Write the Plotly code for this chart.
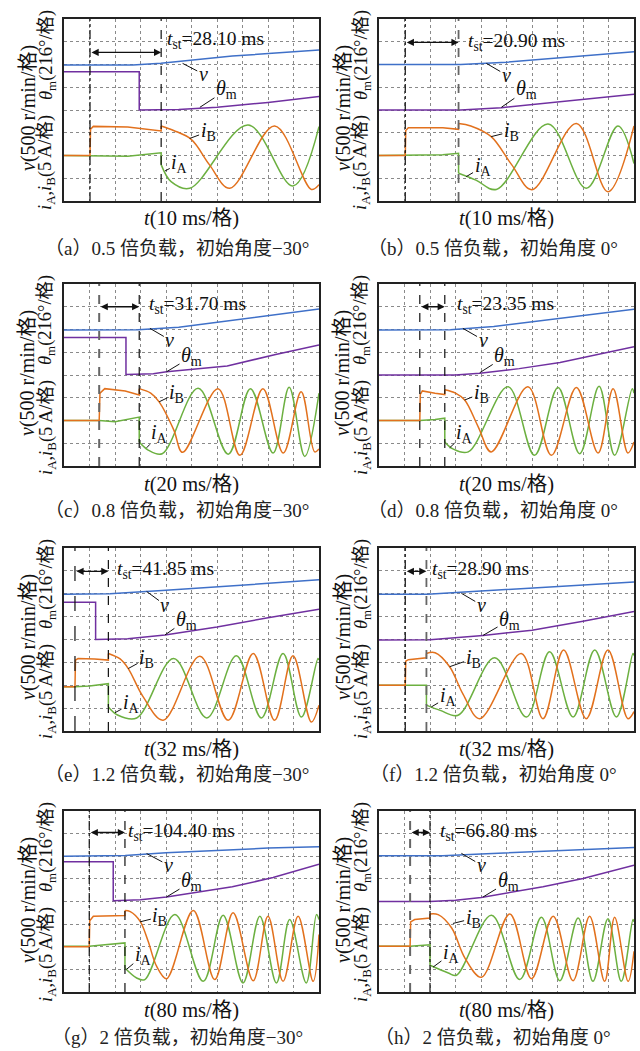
import plotly.graph_objects as go

# ---------------- data (oscilloscope divisions: x 0..10, y 0..8) ----------------
PANEL_TAGS = ["a", "b", "c", "d", "e", "f", "g", "h"]
LOAD = ["0.5", "0.5", "0.8", "0.8", "1.2", "1.2", "2", "2"]
ANGLE = ["−30°", " 0°", "−30°", " 0°", "−30°", " 0°", "−30°", " 0°"]
T_SCALE_MS = [10, 10, 20, 20, 32, 32, 80, 80]
T_ST_MS = ["28.10", "20.90", "31.70", "23.35", "41.85", "28.90", "104.40", "66.80"]
T_D1 = [1.02, 1.03, 1.38, 1.60, 0.43, 1.03, 0.99, 1.22]
T_D2 = [3.81, 3.12, 2.95, 2.58, 1.74, 1.86, 2.39, 2.00]

A_V = [(0, 5.98), (2.7, 5.98), (3.8, 6.06), (5.5, 6.25), (6.6, 6.37), (10, 6.64)]
A_TH = [(0, 5.68), (2.95, 5.68), (2.95, 4.0), (4.5, 4.02), (6, 4.12), (8, 4.33), (10, 4.59)]
A_IB_PRE = [(0, 2.0), (1.02, 2.0), (1.04, 3.15), (1.15, 3.28), (2.5, 3.25), (3.81, 3.08), (3.81, 3.3)]
A_IB = [(3.81, 3.3), (4.3, 3.1), (5.0, 2.7), (5.7, 1.6), (6.5, 0.56), (8.26, 3.3), (9.7, 0.51), (10, 0.72)]
A_IA_PRE = [(0, 2.0), (1.02, 2.0), (2.5, 1.97), (3.81, 2.12), (3.81, 1.6)]
A_IA = [(3.81, 1.6), (4.2, 0.85), (4.93, 0.56), (7.22, 3.34), (8.98, 0.66), (10, 3.27)]

B_V = [(0, 6.0), (3.2, 6.0), (5, 6.1), (7, 6.28), (10, 6.56)]
B_TH = [(0, 4.0), (3.2, 4.0), (4.8, 4.1), (7, 4.35), (10, 4.69)]
B_IB_PRE = [(0, 2.0), (1.03, 2.0), (1.05, 3.1), (1.15, 3.22), (2.5, 3.22), (3.12, 3.15), (3.12, 3.41)]
B_IB = [(3.12, 3.41), (3.6, 3.3), (4.4, 2.83), (5.2, 1.6), (6.0, 0.5), (7.74, 3.41), (8.98, 0.41), (10, 3.3)]
B_IA_PRE = [(0, 2.0), (1.03, 2.0), (2.5, 2.03), (3.12, 2.1), (3.12, 1.22)]
B_IA = [(3.12, 1.22), (3.8, 0.92), (4.6, 0.51), (6.63, 3.38), (8.13, 0.56), (9.37, 3.3), (10, 1.65)]

C_V = [(0, 5.98), (2.9, 5.99), (4.5, 6.1), (6.6, 6.4), (10, 6.9)]
C_TH = [(0, 5.65), (2.43, 5.65), (2.43, 4.02), (3.5, 4.05), (4.02, 4.14), (6.4, 4.4), (8.3, 4.9), (10, 5.32)]
C_IB_PRE = [(0, 2.0), (1.38, 2.0), (1.41, 3.2), (1.6, 3.4), (2.4, 3.3), (2.95, 3.12), (2.95, 3.4)]
C_IB = [(2.95, 3.4), (3.4, 3.2), (3.73, 2.82), (4.3, 1.6), (4.65, 0.6), (6.04, 3.4), (6.9, 0.47), (7.8, 3.4),
        (8.6, 0.57), (9.3, 3.26), (9.83, 0.62), (10, 0.75)]
C_IA_PRE = [(0, 2.0), (1.38, 2.0), (2.0, 1.95), (2.95, 2.15), (2.95, 1.05)]
C_IA = [(2.95, 1.05), (3.3, 0.7), (3.85, 0.54), (5.26, 3.42), (6.44, 0.52), (7.31, 3.4), (8.2, 0.57),
        (8.83, 3.46), (9.44, 0.42), (10, 3.2)]

D_V = [(0, 5.98), (2.8, 5.99), (4.5, 6.13), (6.4, 6.4), (10, 6.89)]
D_TH = [(0, 4.0), (3.0, 4.0), (3.95, 4.08), (5.5, 4.28), (7.1, 4.55), (10, 5.24)]
D_IB_PRE = [(0, 2.0), (1.6, 2.0), (1.62, 3.15), (1.7, 3.3), (2.2, 3.2), (2.58, 3.14), (2.58, 3.35)]
D_IB = [(2.58, 3.35), (3.0, 3.2), (3.36, 2.9), (3.9, 1.7), (4.4, 0.62), (5.84, 3.48), (6.76, 0.47),
        (7.74, 3.45), (8.59, 0.57), (9.18, 3.4), (9.76, 0.57), (10, 1.06)]
D_IA_PRE = [(0, 2.0), (1.6, 2.0), (2.2, 2.04), (2.58, 2.1), (2.58, 1.06)]
D_IA = [(2.58, 1.06), (2.9, 0.75), (3.5, 0.62), (5.06, 3.48), (6.1, 0.47), (7.02, 3.45), (7.87, 0.54),
        (8.63, 3.5), (9.24, 0.47), (9.93, 3.4), (10, 3.2)]

E_V = [(0, 5.98), (1.8, 6.0), (4, 6.15), (7, 6.38), (10, 6.61)]
E_TH = [(0, 5.63), (1.24, 5.63), (1.24, 4.0), (2.5, 4.03), (3.96, 4.2), (6, 4.55), (8, 4.95), (10, 5.32)]
E_IB_PRE = [(0, 1.93), (0.43, 1.93), (0.45, 3.1), (0.55, 3.17), (1.2, 3.15), (1.74, 3.1), (1.74, 3.39)]
E_IB = [(1.74, 3.39), (2.2, 3.15), (2.52, 2.73), (3.1, 1.5), (3.89, 0.47), (5.33, 3.27), (6.44, 0.47),
        (7.42, 3.39), (8.26, 0.47), (8.98, 3.29), (9.7, 0.39), (10, 1.13)]
E_IA_PRE = [(0, 1.93), (0.43, 1.93), (1.0, 1.97), (1.74, 2.07), (1.74, 1.05)]
E_IA = [(1.74, 1.05), (2.1, 0.7), (2.85, 0.57), (4.3, 3.17), (5.6, 0.57), (6.76, 3.29), (7.74, 0.57),
        (8.59, 3.39), (9.31, 0.61), (9.96, 3.17), (10, 3.1)]

F_V = [(0, 5.98), (1.9, 5.98), (4, 6.12), (7, 6.33), (10, 6.51)]
F_TH = [(0, 3.98), (2.0, 3.99), (4.08, 4.18), (6, 4.4), (8, 4.8), (10, 5.22)]
F_IB_PRE = [(0, 2.0), (1.03, 2.0), (1.05, 3.05), (1.15, 3.12), (1.86, 3.2), (1.86, 3.39)]
F_IB = [(1.86, 3.39), (2.2, 3.42), (2.77, 2.81), (3.3, 1.6), (3.95, 0.54), (5.58, 3.39), (6.43, 0.54),
        (7.24, 3.54), (8.13, 0.54), (8.98, 3.54), (9.76, 0.54), (10, 0.85)]
F_IA_PRE = [(0, 2.0), (1.03, 2.0), (1.86, 2.0), (1.86, 1.13)]
F_IA = [(1.86, 1.13), (2.4, 0.9), (3.1, 0.69), (4.54, 3.2), (5.78, 0.61), (6.69, 3.46), (7.61, 0.61),
        (8.46, 3.54), (9.31, 0.61), (9.96, 3.39), (10, 3.3)]

G_V = [(0, 6.0), (2.4, 6.03), (4, 6.15), (6, 6.27), (8, 6.36), (10, 6.42)]
G_TH = [(0, 5.76), (1.93, 5.76), (1.93, 4.03), (3.0, 4.08), (4.02, 4.2), (6.6, 4.65), (8.2, 5.06), (10, 5.65)]
G_IB_PRE = [(0, 2.0), (0.99, 2.0), (1.01, 3.15), (1.15, 3.35), (2.39, 3.38), (2.39, 3.6)]
G_IB = [(2.39, 3.6), (2.6, 3.55), (2.98, 3.13), (3.3, 2.24), (3.63, 1.14), (4.02, 0.59), (5.07, 3.6),
        (5.91, 0.55), (6.63, 3.5), (7.42, 0.5), (8.0, 3.35), (8.59, 0.47), (9.18, 3.35), (9.77, 0.47), (10, 2.54)]
G_IA_PRE = [(0, 2.02), (0.99, 2.02), (1.5, 2.08), (2.39, 2.17), (2.39, 1.06)]
G_IA = [(2.39, 1.06), (2.85, 0.62), (3.17, 0.55), (4.35, 3.42), (5.46, 0.47), (6.24, 3.39), (7.02, 0.4),
        (7.68, 3.35), (8.33, 0.4), (8.85, 3.2), (9.5, 0.4), (9.9, 3.42), (10, 3.2)]

H_V = [(0, 6.02), (2.5, 6.02), (4, 6.1), (7, 6.25), (10, 6.39)]
H_TH = [(0, 4.0), (2.0, 4.0), (3.0, 4.05), (4.01, 4.18), (6.43, 4.65), (8.0, 5.02), (10, 5.6)]
H_IB_PRE = [(0, 2.02), (1.22, 2.02), (1.24, 3.1), (1.4, 3.2), (2.0, 3.27), (2.0, 3.45)]
H_IB = [(2.0, 3.45), (2.32, 3.42), (2.85, 2.83), (3.37, 1.5), (4.02, 0.65), (5.13, 3.45), (5.98, 0.59),
        (6.83, 3.35), (7.61, 0.5), (8.26, 3.35), (8.85, 0.47), (9.24, 3.3), (9.77, 0.47), (10, 1.8)]
H_IA_PRE = [(0, 2.02), (1.22, 2.02), (2.0, 2.09), (2.0, 1.18)]
H_IA = [(2.0, 1.18), (2.72, 0.84), (3.04, 0.74), (4.41, 3.39), (5.52, 0.55), (6.37, 3.3), (7.09, 0.5),
        (7.81, 3.27), (8.39, 0.47), (8.98, 3.24), (9.5, 0.47), (9.96, 3.2), (10, 3.1)]

V_ALL = [A_V, B_V, C_V, D_V, E_V, F_V, G_V, H_V]
TH_ALL = [A_TH, B_TH, C_TH, D_TH, E_TH, F_TH, G_TH, H_TH]
IB_PRE_ALL = [A_IB_PRE, B_IB_PRE, C_IB_PRE, D_IB_PRE, E_IB_PRE, F_IB_PRE, G_IB_PRE, H_IB_PRE]
IB_ALL = [A_IB, B_IB, C_IB, D_IB, E_IB, F_IB, G_IB, H_IB]
IA_PRE_ALL = [A_IA_PRE, B_IA_PRE, C_IA_PRE, D_IA_PRE, E_IA_PRE, F_IA_PRE, G_IA_PRE, H_IA_PRE]
IA_ALL = [A_IA, B_IA, C_IA, D_IA, E_IA, F_IA, G_IA, H_IA]

# ---------------- layout / positions / styles ----------------
W, H = 640, 1051
BOX = [(64, 319, 19, 201), (379, 634, 19, 201), (64, 319, 284, 466), (379, 634, 284, 466),
       (64, 319, 548, 731), (379, 634, 548, 731), (64, 319, 811, 992), (379, 634, 811, 992)]
ARROW_Y = [6.53, 6.97, 7.0, 7.0, 6.98, 6.98, 7.05, 7.05]
TST_POS = [(3.98, 7.08), (3.42, 7.0), (3.24, 7.08), (2.97, 7.08), (2.0, 7.05), (1.99, 7.05), (2.45, 7.08), (2.31, 7.08)]
# (text x, text y, target x, target y)
LBL_V = [(5.46, 5.58, 4.65, 6.05), (4.99, 5.54, 4.21, 6.05), (4.15, 5.54, 3.37, 6.05), (4.08, 5.54, 3.29, 6.05),
         (3.96, 5.51, 3.24, 6.1), (4.01, 5.51, 3.23, 6.02), (4.09, 5.61, 3.24, 6.12), (4.01, 5.61, 3.23, 6.13)]
LBL_TH = [(6.37, 4.88, 5.33, 4.12), (5.78, 4.88, 4.8, 4.12), (5.0, 4.8, 4.02, 4.14), (4.93, 4.8, 3.95, 4.1),
          (4.8, 4.85, 3.96, 4.2), (5.12, 4.85, 4.08, 4.18), (5.0, 4.87, 4.02, 4.2), (5.06, 4.87, 4.08, 4.2)]
LBL_IB = [(5.65, 3.05, 4.93, 2.75), (5.19, 3.05, 4.4, 2.83), (4.41, 3.19, 3.73, 2.82), (4.01, 3.19, 3.36, 2.9),
          (3.24, 3.17, 2.52, 2.73), (3.69, 3.17, 2.77, 2.81), (3.76, 3.32, 2.98, 3.1), (3.69, 3.25, 2.9, 3.03)]
LBL_IA = [(4.54, 1.66, 3.96, 1.32), (4.08, 1.51, 3.42, 1.07), (3.76, 1.42, 3.24, 0.8), (3.36, 1.42, 2.77, 0.8),
          (2.65, 1.2, 2.0, 0.8), (2.71, 1.49, 2.05, 1.05), (3.11, 1.62, 2.45, 1.0), (2.84, 1.7, 2.12, 1.1)]
D1_STYLE = [("dashdot", "#111", 1.2), ("dashdot", "#111", 1.2), ("dash", "#666", 2.0), ("dash", "#111", 1.2),
            ("longdash", "#111", 1.2), ("dashdot", "#111", 1.2), ("dashdot", "#111", 1.2), ("dash", "#666", 2.0)]
D2_STYLE = [("dash", "#111", 1.2), ("dash", "#666", 1.8), ("dash", "#111", 1.2), ("dash", "#111", 1.2),
            ("dash", "#111", 1.2), ("dash", "#666", 1.8), ("dash", "#111", 1.2), ("dashdot", "#111", 1.2)]

C_V_COL = "#3f70c8"
C_TH_COL = "#7030a0"
C_IB_COL = "#e2711d"
C_IA_COL = "#6cb040"
SERIF = "Liberation Serif, Noto Sans CJK SC, serif"
CJK = "Liberation Serif, Noto Sans CJK SC, sans-serif"

fig = go.Figure()
annotations = []
shapes = []


def xy(pts):
    return [p[0] for p in pts], [p[1] for p in pts]


for k in range(8):
    sfx = "" if k == 0 else str(k + 1)
    xr, yr = "x" + sfx, "y" + sfx
    l, r, t, b = BOX[k]
    axcommon = dict(showticklabels=False, ticks="", showgrid=True, gridcolor="#8a8a8a", griddash="dot",
                    gridwidth=1, zeroline=False, showline=True, mirror=True, linecolor="#222", linewidth=1.6,
                    fixedrange=True)
    fig.layout["xaxis" + sfx] = dict(domain=[l / W, r / W], range=[0, 10], dtick=1, tick0=0, anchor=yr, **axcommon)
    fig.layout["yaxis" + sfx] = dict(domain=[1 - b / H, 1 - t / H], range=[0, 8], dtick=1, tick0=0, anchor=xr,
                                     **axcommon)

    def add(pts, col, shape="linear", w=1.5):
        x, y = xy(pts)
        fig.add_trace(go.Scatter(x=x, y=y, xaxis=xr, yaxis=yr, mode="lines",
                                 line=dict(color=col, width=w, shape=shape, smoothing=1.0),
                                 showlegend=False, hoverinfo="skip"))

    add(V_ALL[k], C_V_COL)
    add(TH_ALL[k], C_TH_COL)
    add(IA_PRE_ALL[k], C_IA_COL)
    add(IA_ALL[k], C_IA_COL, "spline")
    add(IB_PRE_ALL[k], C_IB_COL)
    add(IB_ALL[k], C_IB_COL, "spline")

    # ground reference markers
    fig.add_trace(go.Scatter(x=[-0.17, -0.17, -0.17], y=[V_ALL[k][0][1], 4.0, 2.0], xaxis=xr, yaxis=yr,
                             mode="markers", cliponaxis=False,
                             marker=dict(symbol="triangle-right", size=6, color=["#6f9be0", "#9060c0", "#7cc050"]),
                             showlegend=False, hoverinfo="skip"))

    # dashed time markers
    for d, st in ((T_D1[k], D1_STYLE[k]), (T_D2[k], D2_STYLE[k])):
        shapes.append(dict(type="line", xref=xr, yref=yr, x0=d, x1=d, y0=0, y1=8,
                           line=dict(dash=st[0], color=st[1], width=st[2])))

    # double arrow
    annotations.append(dict(xref=xr, yref=yr, axref=xr, ayref=yr, x=T_D2[k], y=ARROW_Y[k], ax=T_D1[k],
                            ay=ARROW_Y[k], text="", showarrow=True, arrowhead=2, arrowside="end+start",
                            arrowsize=1.1, arrowwidth=1.3, arrowcolor="#111", standoff=0, startstandoff=0))
    tx, ty = TST_POS[k]
    annotations.append(dict(xref=xr, yref=yr, x=tx, y=ty, xanchor="left", yanchor="middle", showarrow=False,
                            text="<i>t</i><sub>st</sub>=" + T_ST_MS[k] + " ms",
                            font=dict(family=SERIF, size=19.5, color="#111")))

    for lbl, txt in ((LBL_V[k], "<i>v</i>"), (LBL_TH[k], "<i>θ</i><sub>m</sub>"),
                     (LBL_IB[k], "<i>i</i><sub>B</sub>"), (LBL_IA[k], "<i>i</i><sub>A</sub>")):
        annotations.append(dict(xref=xr, yref=yr, axref=xr, ayref=yr, x=lbl[2], y=lbl[3], ax=lbl[0], ay=lbl[1],
                                text=txt, showarrow=True, arrowhead=0, arrowwidth=1, arrowcolor="#111",
                                standoff=0, font=dict(family=SERIF, size=20, color="#111")))

    # axis labels
    cx = (l + r) / 2
    annotations.append(dict(xref="paper", yref="paper", x=cx / W, y=1 - (b + 18) / H, showarrow=False,
                            xanchor="center", yanchor="middle",
                            text="<i>t</i>(" + str(T_SCALE_MS[k]) + " ms/格)",
                            font=dict(family=CJK, size=20.5, color="#111")))
    for off_x, off_y, txt, fs in ((36, 89, "<i>v</i>(500 r/min/格)", 20),
                                  (17, 36, "<i>θ</i><sub>m</sub>(216°/格)", 18.5),
                                  (17, 144, "<i>i</i><sub>A</sub>,<i>i</i><sub>B</sub>(5 A/格)", 18.5)):
        annotations.append(dict(xref="paper", yref="paper", x=(l - off_x) / W, y=1 - (t + off_y) / H,
                                showarrow=False, xanchor="center", yanchor="middle", textangle=-90,
                                text=txt, font=dict(family=CJK, size=fs, color="#111")))
    # caption
    capx = 177 if k % 2 == 0 else 493
    capy = [248, 511, 774, 1037][k // 2]
    annotations.append(dict(xref="paper", yref="paper", x=capx / W, y=1 - capy / H, showarrow=False,
                            xanchor="center", yanchor="middle",
                            text="（" + PANEL_TAGS[k] + "）" + LOAD[k] + " 倍负载，初始角度" + ANGLE[k],
                            font=dict(family=CJK, size=19, color="#222")))

fig.update_layout(width=W, height=H, margin=dict(l=0, r=0, t=0, b=0), paper_bgcolor="white",
                  plot_bgcolor="white", annotations=annotations, shapes=shapes, showlegend=False)
fig.write_html("out.html")
